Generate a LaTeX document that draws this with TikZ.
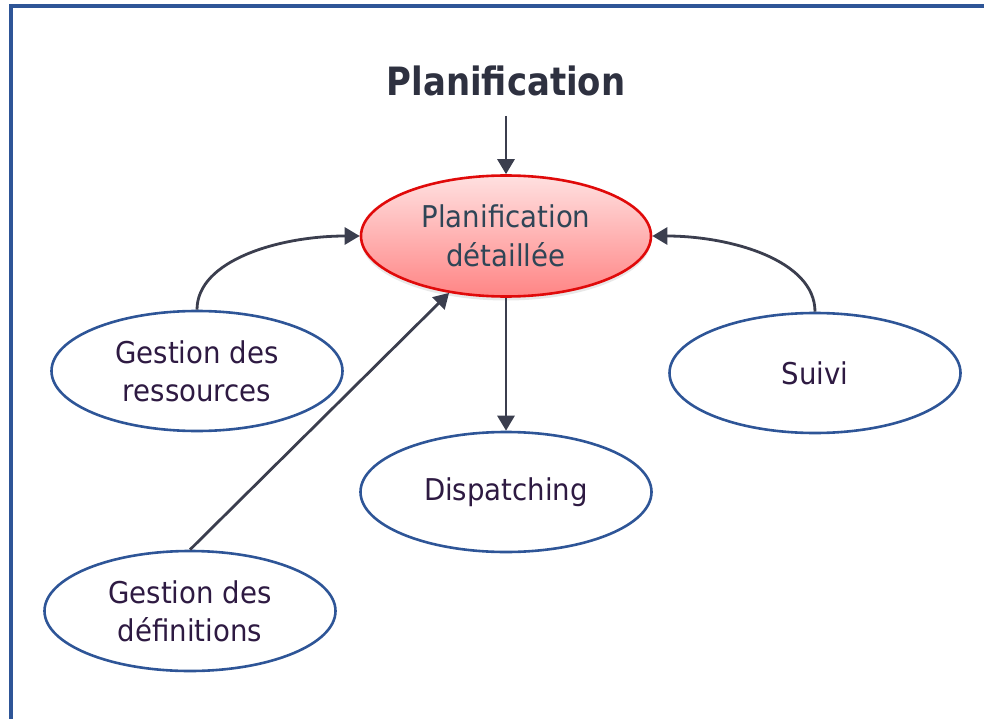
\documentclass[tikz,border=0pt]{standalone}
\usepackage{fontspec}
\setmainfont[FakeStretch=0.92]{DejaVu Sans}
\newfontfamily\titlefont[FakeStretch=0.87]{DejaVu Sans}
\usetikzlibrary{shapes.geometric,arrows.meta,shadows}
\definecolor{frameblue}{HTML}{2E5597}
\definecolor{arrowgray}{HTML}{3B3E4E}
\definecolor{outertext}{HTML}{2E1A42}
\definecolor{innertext}{HTML}{2F4556}
\definecolor{titlegray}{HTML}{2E3140}
\definecolor{rimred}{HTML}{E00A0A}
\tikzset{
  bubble/.style={ellipse, draw=frameblue, line width=2.6pt, fill=white,
    minimum width=291pt, minimum height=120pt, inner sep=0pt,
    text=outertext, font=\fontsize{30}{38}\selectfont, align=center},
  hub/.style={ellipse, draw=rimred, line width=2.6pt,
    top color=red!12, bottom color=red!48,
    drop shadow={opacity=0.18, shadow xshift=0pt, shadow yshift=-4pt},
    minimum width=290pt, minimum height=121pt, inner sep=0pt,
    text=innertext, font=\fontsize{30}{39}\selectfont, align=center},
  link/.style={draw=arrowgray, line width=2.8pt,
    -{Triangle[width=17pt,length=15pt]}},
}
\begin{document}
\begin{tikzpicture}[x=1pt,y=-1pt]
  \useasboundingbox (0,0) rectangle (984,719);
  \draw[frameblue, line width=3.5pt] (11,760) -- (11,6) -- (1000,6);

  \node[font=\titlefont\bfseries\fontsize{39}{44}\selectfont, text=titlegray] (title) at (506,81) {Planification};
  \node[hub] (hub) at (506,236) {Planification\\détaillée};
  \node[bubble] (res) at (197,371) {Gestion des\\ressources};
  \node[bubble] (suivi) at (815,373) {Suivi};
  \node[bubble] (disp) at (506,492) {Dispatching};
  \node[bubble] (defs) at (190,611) {Gestion des\\définitions};

  \draw[link] (506,116) -- (hub.north);
  \draw[link] (hub.south) -- (disp.north);
  \draw[link] (res.north) .. controls (197,260) and (280,236) .. (hub.west);
  \draw[link] (suivi.north) .. controls (815,260) and (730,236) .. (hub.east);
  \draw[link] (defs.north) -- (hub.-135);
\end{tikzpicture}
\end{document}
